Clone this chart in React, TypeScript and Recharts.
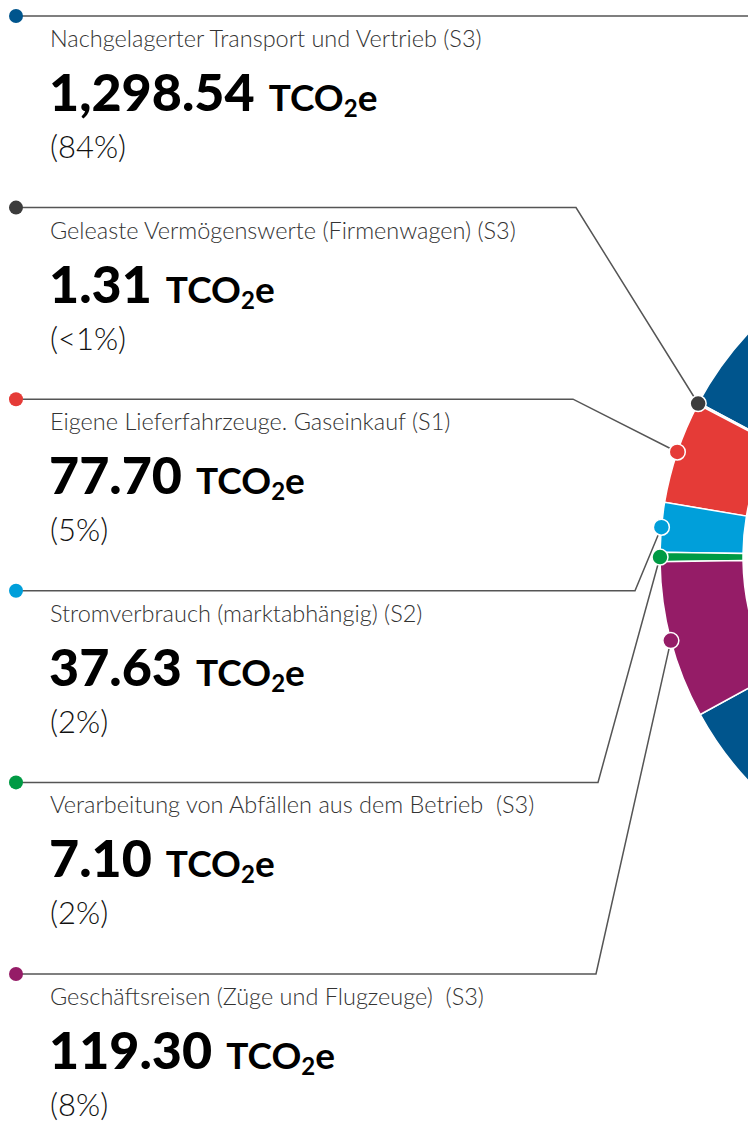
import React from 'react';
import { PieChart, Pie, Cell } from 'recharts';

const categories = [
  'Nachgelagerter Transport und Vertrieb (S3)',
  'Geleaste Vermögenswerte (Firmenwagen) (S3)',
  'Eigene Lieferfahrzeuge. Gaseinkauf (S1)',
  'Stromverbrauch (marktabhängig) (S2)',
  'Verarbeitung von Abfällen aus dem Betrieb  (S3)',
  'Geschäftsreisen (Züge und Flugzeuge)  (S3)',
];
const values = [1298.54, 1.31, 77.7, 37.63, 7.1, 119.3];
const shareLabels = ['(84%)', '(<1%)', '(5%)', '(2%)', '(2%)', '(8%)'];
const colors = ['#00558d', '#3c3c3c', '#e53b37', '#009fda', '#009a44', '#951c67'];

// where each leader line leaves the horizontal and heads for the ring
const bendX = [1000, 576, 573, 635, 598, 596];

const ROW_TOP = 16;
const ROW_STEP = 191.6;
const RAD = Math.PI / 180;
const FONT = 'Lato, "Noto Sans", sans-serif';

const data = categories.map((name, i) => ({ name, value: values[i] }));

const fmt = (v: number) =>
  v.toLocaleString('en-US', { minimumFractionDigits: 2, maximumFractionDigits: 2 });

const renderLabel = (props: any) => {
  const { cx, cy, midAngle, outerRadius, index } = props;
  const px = cx + outerRadius * Math.cos(-midAngle * RAD);
  const py = cy + outerRadius * Math.sin(-midAngle * RAD);
  const rowY = ROW_TOP + index * ROW_STEP;
  const color = colors[index];

  return (
    <g key={`lbl-${index}`}>
      <polyline
        points={`16,${rowY} ${bendX[index]},${rowY} ${px},${py}`}
        fill="none"
        stroke="#555"
        strokeWidth={1.5}
      />
      <circle cx={16} cy={rowY} r={7} fill={color} />
      <circle cx={px} cy={py} r={8} fill={color} stroke="#fff" strokeWidth={1.5} />
      <text x={50} y={rowY + 31} fontFamily={FONT} fontWeight={300} fontSize={23.5} fill="#333" style={{ whiteSpace: 'pre' }}>
        {categories[index]}
      </text>
      <text x={49} y={rowY + 95} fontFamily={FONT} fontWeight={900} fill="#000">
        <tspan fontSize={52}>{fmt(values[index])}</tspan>
        <tspan fontSize={37} fontWeight={700} dx={14}>TCO</tspan>
        <tspan fontSize={24} fontWeight={700} dy={6}>2</tspan>
        <tspan fontSize={37} fontWeight={700} dy={-6}>e</tspan>
      </text>
      <text x={50} y={rowY + 142} fontFamily={FONT} fontWeight={300} fontSize={31} fill="#111">
        {shareLabels[index]}
      </text>
    </g>
  );
};

const App = () => {
  return (
    <div style={{ position: 'absolute', left: 0, top: 0, width: 748, height: 1124, overflow: 'hidden', background: '#fff' }}>
      <PieChart width={748} height={1124} margin={{ top: 0, right: 0, bottom: 0, left: 0 }}>
        <Pie
          data={data}
          dataKey="value"
          nameKey="name"
          cx={988}
          cy={557}
          innerRadius={245}
          outerRadius={328}
          startAngle={-151.3}
          endAngle={208.7}
          stroke="#fff"
          strokeWidth={1.5}
          labelLine={false}
          label={renderLabel}
          isAnimationActive={false}
        >
          {data.map((d, i) => (
            <Cell key={d.name} fill={colors[i]} />
          ))}
        </Pie>
      </PieChart>
    </div>
  );
};

export default App;
